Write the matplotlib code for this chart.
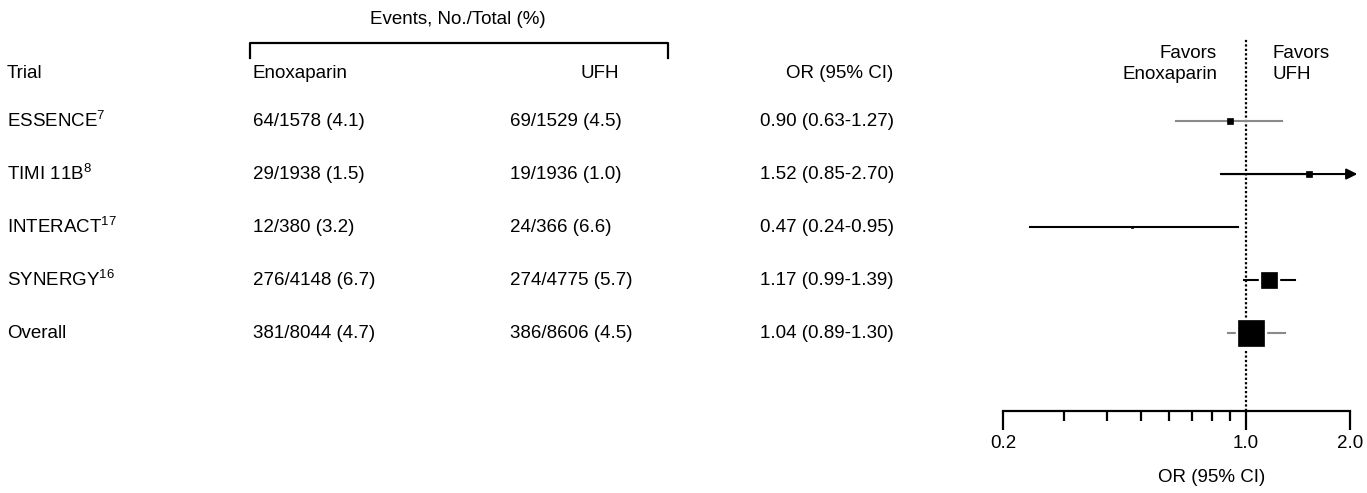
import numpy as np
import matplotlib
matplotlib.use("Agg")
from matplotlib import pyplot as plt
from matplotlib import transforms
from matplotlib.ticker import FixedLocator, NullFormatter

plt.rcParams['font.family'] = ['Liberation Sans', 'DejaVu Sans']
plt.rcParams['mathtext.fontset'] = 'custom'
plt.rcParams['mathtext.rm'] = 'Liberation Sans'
plt.rcParams['mathtext.it'] = 'Liberation Sans'

# Data
trials = ['ESSENCE', 'TIMI 11B', 'INTERACT', 'SYNERGY', 'Overall']
refs = ['7', '8', '17', '16', '']
enox = ['64/1578 (4.1)', '29/1938 (1.5)', '12/380 (3.2)', '276/4148 (6.7)', '381/8044 (4.7)']
ufh = ['69/1529 (4.5)', '19/1936 (1.0)', '24/366 (6.6)', '274/4775 (5.7)', '386/8606 (4.5)']
odds = [0.90, 1.52, 0.47, 1.17, 1.04]
ci_lo = [0.63, 0.85, 0.24, 0.99, 0.89]
ci_hi = [1.27, 2.70, 0.95, 1.39, 1.30]
weights = [5, 5, 2, 11, 19]          # marker size (pt)
line_col = ['#8a8a8a', 'black', 'black', 'black', '#8a8a8a']
major_ticks = [0.2, 1.0, 2.0]
minor_ticks = [0.3, 0.4, 0.5, 0.6, 0.7, 0.8, 0.9]

W, H = 1367, 493
FS = 13.5
fig = plt.figure(figsize=(W / 100, H / 100), dpi=100)


def px(x, y):
    return x / W, 1 - y / H


# forest panel
ax_l, ax_r = 1003, 1350
ax = fig.add_axes([ax_l / W, (H - 411) / H, (ax_r - ax_l) / W, (411 - 38) / H])
ax.set_xscale('log')
ax.set_xlim(0.2, 2.0)
ax.set_ylim(5.47, -1.566)
for s in ['top', 'right', 'left']:
    ax.spines[s].set_visible(False)
ax.spines['bottom'].set_linewidth(1.6)
ax.set_yticks([])
ax.xaxis.set_major_locator(FixedLocator(major_ticks))
ax.xaxis.set_minor_locator(FixedLocator(minor_ticks))
ax.xaxis.set_minor_formatter(NullFormatter())
ax.set_xticklabels(['%.1f' % t for t in major_ticks])
ax.tick_params(axis='x', which='major', length=14, width=1.6, labelsize=FS, pad=3)
ax.tick_params(axis='x', which='minor', length=7, width=1.6)
ax.set_xlabel('OR (95% CI)', fontsize=FS)
ax.xaxis.set_label_coords((1212 - ax_l) / (ax_r - ax_l), -0.155)
ax.axvline(1.0, color='black', ls=(0, (1, 1)), lw=1.6, zorder=1)

cap = 2.1
for i in range(len(trials)):
    hi = ci_hi[i]
    if hi > 2.0:
        ax.plot([ci_lo[i], odds[i]], [i, i], color=line_col[i], lw=1.5, zorder=2)
        ax.annotate('', xy=(cap, i), xytext=(ci_lo[i], i), annotation_clip=False,
                    arrowprops=dict(arrowstyle='-|>', color=line_col[i], lw=1.5,
                                    mutation_scale=16, shrinkA=0, shrinkB=0))
    else:
        ax.plot([ci_lo[i], hi], [i, i], color=line_col[i], lw=1.5, zorder=2)
    if weights[i] > 6:
        ax.plot(odds[i], i, 's', ms=weights[i] + 3, color='white', mec='white', zorder=3)
    ax.plot(odds[i], i, 's', ms=weights[i], color='black', mec='black', mew=0.5, zorder=4)

# table
tr = transforms.blended_transform_factory(fig.transFigure, ax.transData)
for i in range(len(trials)):
    label = trials[i] + ('$^{%s}$' % refs[i] if refs[i] else '')
    fig.text(7 / W, i, label, transform=tr, fontsize=FS, va='center')
    fig.text(253 / W, i, enox[i], transform=tr, fontsize=FS, va='center')
    fig.text(510 / W, i, ufh[i], transform=tr, fontsize=FS, va='center')
    fig.text(760 / W, i, '%.2f (%.2f-%.2f)' % (odds[i], ci_lo[i], ci_hi[i]),
             transform=tr, fontsize=FS, va='center')

fig.text(*px(7, 74), 'Trial', fontsize=FS, va='center')
fig.text(*px(300, 74), 'Enoxaparin', fontsize=FS, va='center', ha='center')
fig.text(*px(600, 74), 'UFH', fontsize=FS, va='center', ha='center')
fig.text(*px(840, 74), 'OR (95% CI)', fontsize=FS, va='center', ha='center')
fig.text(*px(458, 19), 'Events, No./Total (%)', fontsize=FS, va='center', ha='center')
bx = [250 / W, 250 / W, 668 / W, 668 / W]
by = [1 - 58 / H, 1 - 43 / H, 1 - 43 / H, 1 - 58 / H]
fig.add_artist(plt.Line2D(bx, by, color='black', lw=1.6))

fig.text(*px(1217, 64), 'Favors\nEnoxaparin', fontsize=FS, va='center', ha='right',
         multialignment='right', linespacing=1.3)
fig.text(*px(1272, 64), 'Favors\nUFH', fontsize=FS, va='center', ha='left',
         linespacing=1.3)

fig.savefig('out.png', dpi=100)
